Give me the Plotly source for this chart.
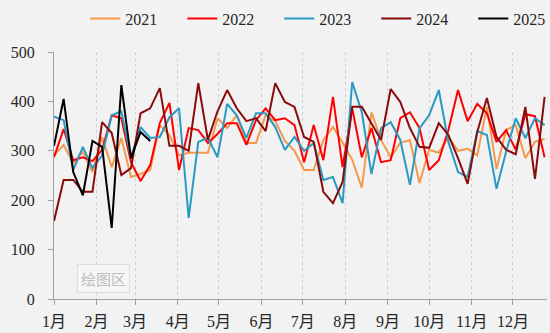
import plotly.graph_objects as go
import datetime as dt

years = ["2021", "2022", "2023", "2024", "2025"]
colors = ["#F39A4C", "#FF0000", "#2A9AC4", "#8B0A0A", "#000000"]

v2021 = [291, 312, 275, 298, 257, 328, 267, 326, 247, 253, 261, 352, 332, 291, 296, 296, 296, 366, 346, 372,
         316, 316, 372, 360, 320, 300, 261, 261, 322, 348, 317, 282, 225, 378, 322, 287, 316, 322, 235, 302,
         296, 328, 300, 304, 291, 389, 263, 342, 352, 285, 318, 324]
v2022 = [287, 344, 281, 287, 279, 302, 372, 366, 277, 239, 271, 356, 397, 261, 346, 342, 316, 334, 356, 356,
         312, 362, 386, 362, 366, 352, 277, 352, 281, 409, 267, 386, 287, 346, 277, 281, 366, 378, 346, 261,
         281, 342, 423, 360, 395, 376, 318, 342, 302, 374, 370, 287]
v2023 = [369, 362, 261, 308, 265, 291, 372, 380, 287, 348, 326, 328, 368, 386, 164, 318, 326, 287, 395, 372,
         326, 376, 376, 348, 302, 328, 300, 316, 241, 247, 194, 439, 378, 253, 346, 358, 322, 231, 346, 372,
         423, 318, 257, 247, 340, 332, 223, 298, 366, 326, 366, 352]
v2024 = [158, 241, 241, 217, 217, 358, 336, 251, 265, 376, 386, 427, 310, 310, 300, 437, 322, 380, 423, 386,
         360, 366, 340, 437, 399, 389, 328, 318, 217, 194, 237, 389, 389, 356, 322, 425, 399, 346, 308, 306,
         356, 332, 285, 233, 338, 407, 328, 302, 293, 389, 243, 409]
v2025 = [310, 405, 257, 210, 320, 308, 144, 433, 285, 338, 320]
series = [v2021, v2022, v2023, v2024, v2025]

month_labels = [f"{m}月" for m in range(1, 13)]
y_ticks = [0, 100, 200, 300, 400, 500]

base = dt.date(2021, 1, 1)

def week_dates(n):
    return [base + dt.timedelta(days=7 * i) for i in range(n)]

fig = go.Figure()
for name, vals, col in zip(years, series, colors):
    fig.add_trace(go.Scatter(x=week_dates(len(vals)), y=vals, name=name, mode="lines",
                             line=dict(color=col, width=2)))

month_vals = [dt.date(2021, m, 1) for m in range(1, 13)]

font_fam = "Liberation Serif, Noto Sans CJK SC, serif"
fig.update_layout(
    width=550, height=333,
    margin=dict(l=54, r=3, t=52, b=34),
    paper_bgcolor="#F2F2F2", plot_bgcolor="#F2F2F2",
    font=dict(family=font_fam, size=16, color="#262626"),
    showlegend=True,
    legend=dict(orientation="h", xref="container", yref="container", x=0.155, y=0.995,
                xanchor="left", yanchor="top", entrywidth=52, entrywidthmode="pixels",
                font=dict(size=16), bgcolor="rgba(0,0,0,0)", itemwidth=30),
    xaxis=dict(type="date", range=["2021-01-01", "2021-12-25 18:00"],
               tickvals=month_vals, ticktext=month_labels,
               showgrid=True, gridcolor="#CFCFCF", griddash="dot", gridwidth=1,
               showline=True, linecolor="#A0A0A0", linewidth=1,
               ticks="outside", ticklen=5, tickcolor="#A0A0A0", ticklabelstandoff=3,
               zeroline=False, fixedrange=True),
    yaxis=dict(range=[0, 500], tickvals=y_ticks, showgrid=False,
               showline=True, linecolor="#A0A0A0", linewidth=1,
               ticks="outside", ticklen=5, tickcolor="#A0A0A0", ticklabelstandoff=10,
               zeroline=False, fixedrange=True),
)

fig.add_annotation(x=0.0, y=0.0, xref="paper", yref="paper", text="绘图区",
                   showarrow=False, xanchor="left", yanchor="bottom",
                   xshift=23, yshift=6, font=dict(size=15, color="#BDBDBD",
                   family="Noto Sans CJK SC"),
                   bgcolor="#F6F6F6", bordercolor="#DDDDDD", borderwidth=1, borderpad=3)

fig.write_html("out.html")
